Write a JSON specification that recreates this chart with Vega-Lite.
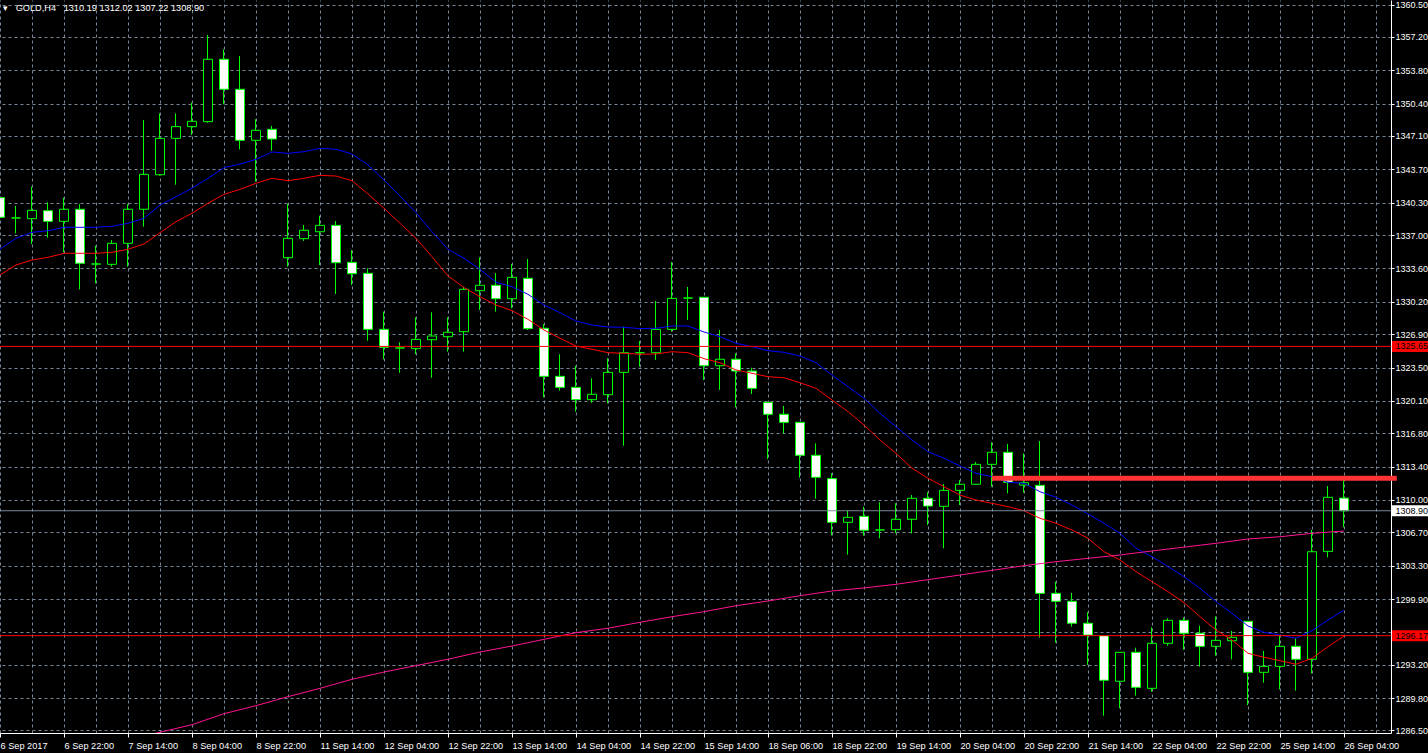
{
  "$schema": "https://vega.github.io/schema/vega-lite/v6.json",
  "width": 1391,
  "height": 733,
  "autosize": {"type": "none"},
  "padding": {"left": 0, "top": 0, "right": 37, "bottom": 20},
  "background": "black",
  "config": {
    "view": {"stroke": null},
    "scale": {"continuousPadding": 0},
    "axis": {"labelOverlap": false, "labelBound": false, "labelFlush": false, "labelColor": "white", "labelFont": "Liberation Sans", "labelFontSize": 9, "title": null}
  },
  "title": {"text": "▾\u00a0\u00a0\u00a0GOLD,H4\u00a0\u00a0\u00a01310.19 1312.02 1307.22 1308.90", "anchor": "start", "frame": "group", "orient": "top", "offset": -13, "dx": 3, "color": "white", "font": "Liberation Sans", "fontSize": 9.2, "fontWeight": "normal"},
  "datasets": {
    "candles": [
      {"i":0,"o":1340.81,"h":1342.27,"l":1338.03,"c":1338.81,"b":1335.58,"r":1332.93},
      {"i":1,"o":1338.74,"h":1339.96,"l":1337.18,"c":1338.74,"b":1336.67,"r":1333.95},
      {"i":2,"o":1338.67,"h":1341.93,"l":1336.09,"c":1339.52,"b":1337.28,"r":1334.46},
      {"i":3,"o":1339.48,"h":1340.34,"l":1336.73,"c":1338.40,"b":1337.44,"r":1334.73},
      {"i":4,"o":1338.40,"h":1340.81,"l":1335.24,"c":1339.63,"b":1337.79,"r":1335.14},
      {"i":5,"o":1339.63,"h":1340.17,"l":1331.47,"c":1334.12,"b":1337.79,"r":1335.14},
      {"i":6,"o":1334.05,"h":1335.92,"l":1332.08,"c":1334.05,"b":1337.79,"r":1335.14},
      {"i":7,"o":1334.02,"h":1336.50,"l":1333.78,"c":1336.16,"b":1337.89,"r":1335.24},
      {"i":8,"o":1336.16,"h":1340.17,"l":1333.78,"c":1339.63,"b":1338.20,"r":1335.55},
      {"i":9,"o":1339.63,"h":1348.73,"l":1337.85,"c":1343.19,"b":1338.71,"r":1336.09},
      {"i":10,"o":1343.15,"h":1349.41,"l":1343.05,"c":1346.86,"b":1340.06,"r":1337.24},
      {"i":11,"o":1346.86,"h":1349.41,"l":1342.13,"c":1348.05,"b":1340.91,"r":1338.36},
      {"i":12,"o":1348.05,"h":1350.49,"l":1347.20,"c":1348.60,"b":1341.77,"r":1339.22},
      {"i":13,"o":1348.56,"h":1357.39,"l":1348.45,"c":1354.92,"b":1342.79,"r":1340.24},
      {"i":14,"o":1354.92,"h":1355.93,"l":1350.33,"c":1351.86,"b":1343.87,"r":1341.15},
      {"i":15,"o":1351.86,"h":1355.25,"l":1345.74,"c":1346.66,"b":1344.24,"r":1341.66},
      {"i":16,"o":1346.66,"h":1348.80,"l":1342.44,"c":1347.68,"b":1344.72,"r":1342.28},
      {"i":17,"o":1347.78,"h":1348.12,"l":1345.60,"c":1346.79,"b":1345.47,"r":1342.79},
      {"i":18,"o":1334.69,"h":1340.17,"l":1333.78,"c":1336.67,"b":1345.33,"r":1342.54},
      {"i":19,"o":1336.63,"h":1338.03,"l":1336.40,"c":1337.49,"b":1345.50,"r":1342.79},
      {"i":20,"o":1337.34,"h":1338.97,"l":1333.95,"c":1337.99,"b":1345.84,"r":1343.09},
      {"i":21,"o":1337.99,"h":1338.43,"l":1330.99,"c":1334.18,"b":1345.74,"r":1343.02},
      {"i":22,"o":1334.22,"h":1335.48,"l":1331.91,"c":1333.06,"b":1345.26,"r":1342.54},
      {"i":23,"o":1333.10,"h":1333.61,"l":1326.23,"c":1327.39,"b":1344.14,"r":1341.19},
      {"i":24,"o":1327.39,"h":1329.19,"l":1324.34,"c":1325.56,"b":1342.61,"r":1339.73},
      {"i":25,"o":1325.49,"h":1326.07,"l":1322.97,"c":1325.49,"b":1340.98,"r":1338.20},
      {"i":26,"o":1325.42,"h":1328.62,"l":1324.85,"c":1326.37,"b":1339.28,"r":1336.67},
      {"i":27,"o":1326.33,"h":1329.13,"l":1322.46,"c":1326.71,"b":1337.34,"r":1334.79},
      {"i":28,"o":1326.64,"h":1328.62,"l":1325.11,"c":1327.09,"b":1335.55,"r":1332.83},
      {"i":29,"o":1327.15,"h":1331.74,"l":1325.11,"c":1331.47,"b":1334.63,"r":1331.65},
      {"i":30,"o":1331.33,"h":1334.73,"l":1329.36,"c":1331.88,"b":1333.51,"r":1330.72},
      {"i":31,"o":1331.88,"h":1333.13,"l":1329.19,"c":1330.51,"b":1332.19,"r":1329.87},
      {"i":32,"o":1330.51,"h":1334.05,"l":1329.53,"c":1332.69,"b":1331.74,"r":1329.29},
      {"i":33,"o":1332.59,"h":1334.56,"l":1327.32,"c":1327.46,"b":1330.96,"r":1328.41},
      {"i":34,"o":1327.50,"h":1327.93,"l":1320.46,"c":1322.60,"b":1329.87,"r":1327.32},
      {"i":35,"o":1322.60,"h":1324.85,"l":1321.14,"c":1321.48,"b":1329.09,"r":1326.48},
      {"i":36,"o":1321.48,"h":1323.68,"l":1319.00,"c":1320.22,"b":1328.24,"r":1325.69},
      {"i":37,"o":1320.22,"h":1322.40,"l":1319.91,"c":1320.77,"b":1327.83,"r":1325.36},
      {"i":38,"o":1320.73,"h":1324.44,"l":1319.85,"c":1323.01,"b":1327.63,"r":1325.01},
      {"i":39,"o":1323.01,"h":1327.66,"l":1315.53,"c":1325.01,"b":1327.60,"r":1324.95},
      {"i":40,"o":1325.01,"h":1326.20,"l":1323.58,"c":1325.01,"b":1327.46,"r":1324.85},
      {"i":41,"o":1325.01,"h":1330.28,"l":1324.27,"c":1327.39,"b":1327.50,"r":1324.88},
      {"i":42,"o":1327.39,"h":1334.25,"l":1327.15,"c":1330.55,"b":1327.73,"r":1325.11},
      {"i":43,"o":1330.58,"h":1331.71,"l":1328.34,"c":1330.58,"b":1327.73,"r":1325.01},
      {"i":44,"o":1330.66,"h":1330.66,"l":1322.23,"c":1323.68,"b":1327.12,"r":1324.40},
      {"i":45,"o":1323.68,"h":1327.32,"l":1321.21,"c":1324.34,"b":1326.64,"r":1323.99},
      {"i":46,"o":1324.34,"h":1324.95,"l":1319.44,"c":1323.14,"b":1325.97,"r":1323.25},
      {"i":47,"o":1323.14,"h":1323.48,"l":1320.80,"c":1321.38,"b":1325.62,"r":1322.91},
      {"i":48,"o":1319.95,"h":1319.95,"l":1314.17,"c":1318.73,"b":1325.21,"r":1322.56},
      {"i":49,"o":1318.73,"h":1319.58,"l":1316.79,"c":1317.91,"b":1325.05,"r":1322.46},
      {"i":50,"o":1317.91,"h":1317.91,"l":1312.27,"c":1314.55,"b":1324.67,"r":1321.95},
      {"i":51,"o":1314.55,"h":1315.77,"l":1310.13,"c":1312.31,"b":1323.99,"r":1321.38},
      {"i":52,"o":1312.17,"h":1312.72,"l":1306.40,"c":1307.72,"b":1322.74,"r":1320.19},
      {"i":53,"o":1307.72,"h":1308.90,"l":1304.42,"c":1308.23,"b":1321.54,"r":1319.00},
      {"i":54,"o":1308.33,"h":1309.31,"l":1306.36,"c":1306.91,"b":1320.36,"r":1317.64},
      {"i":55,"o":1306.94,"h":1309.76,"l":1306.09,"c":1306.94,"b":1318.83,"r":1316.11},
      {"i":56,"o":1306.97,"h":1309.66,"l":1306.60,"c":1308.03,"b":1317.47,"r":1314.75},
      {"i":57,"o":1308.03,"h":1310.50,"l":1306.60,"c":1310.17,"b":1316.11,"r":1313.23},
      {"i":58,"o":1310.17,"h":1310.78,"l":1307.45,"c":1309.38,"b":1314.92,"r":1312.21},
      {"i":59,"o":1309.35,"h":1311.63,"l":1305.07,"c":1310.98,"b":1314.25,"r":1311.35},
      {"i":60,"o":1310.98,"h":1312.03,"l":1309.49,"c":1311.60,"b":1313.46,"r":1310.50},
      {"i":61,"o":1311.60,"h":1313.87,"l":1311.60,"c":1313.63,"b":1312.72,"r":1309.99},
      {"i":62,"o":1313.63,"h":1315.88,"l":1311.35,"c":1314.86,"b":1312.37,"r":1309.66},
      {"i":63,"o":1314.86,"h":1315.70,"l":1310.68,"c":1311.80,"b":1311.80,"r":1309.31},
      {"i":64,"o":1311.52,"h":1314.75,"l":1310.74,"c":1311.76,"b":1311.70,"r":1308.90},
      {"i":65,"o":1311.49,"h":1316.01,"l":1295.96,"c":1300.48,"b":1310.84,"r":1308.13},
      {"i":66,"o":1300.48,"h":1301.67,"l":1295.45,"c":1299.67,"b":1310.27,"r":1307.62},
      {"i":67,"o":1299.67,"h":1300.52,"l":1297.08,"c":1297.43,"b":1309.49,"r":1306.94},
      {"i":68,"o":1297.43,"h":1298.55,"l":1293.18,"c":1296.23,"b":1308.57,"r":1306.09},
      {"i":69,"o":1296.16,"h":1296.16,"l":1288.01,"c":1291.62,"b":1307.62,"r":1304.73},
      {"i":70,"o":1291.52,"h":1294.47,"l":1288.76,"c":1294.47,"b":1306.60,"r":1303.88},
      {"i":71,"o":1294.47,"h":1294.94,"l":1290.05,"c":1290.90,"b":1305.07,"r":1302.69},
      {"i":72,"o":1290.80,"h":1297.02,"l":1290.45,"c":1295.39,"b":1304.22,"r":1301.67},
      {"i":73,"o":1295.39,"h":1297.94,"l":1295.14,"c":1297.73,"b":1303.20,"r":1300.65},
      {"i":74,"o":1297.73,"h":1298.04,"l":1294.74,"c":1296.41,"b":1302.18,"r":1299.53},
      {"i":75,"o":1296.41,"h":1297.18,"l":1293.00,"c":1295.08,"b":1300.99,"r":1298.10},
      {"i":76,"o":1295.08,"h":1298.14,"l":1294.12,"c":1295.69,"b":1299.63,"r":1296.74},
      {"i":77,"o":1295.65,"h":1296.64,"l":1293.76,"c":1296.00,"b":1298.45,"r":1295.72},
      {"i":78,"o":1297.63,"h":1297.63,"l":1289.10,"c":1292.43,"b":1297.15,"r":1294.37},
      {"i":79,"o":1292.43,"h":1294.60,"l":1291.37,"c":1293.04,"b":1296.51,"r":1293.96},
      {"i":80,"o":1293.04,"h":1296.23,"l":1290.70,"c":1295.08,"b":1296.23,"r":1293.62},
      {"i":81,"o":1295.08,"h":1295.90,"l":1290.56,"c":1293.76,"b":1295.90,"r":1293.25},
      {"i":82,"o":1293.76,"h":1306.94,"l":1292.33,"c":1304.72,"b":1296.67,"r":1293.86},
      {"i":83,"o":1304.76,"h":1311.42,"l":1304.15,"c":1310.27,"b":1297.76,"r":1295.04},
      {"i":84,"o":1310.19,"h":1312.02,"l":1307.22,"c":1308.90,"b":1298.78,"r":1296.13}
    ],
    "pink": [
      {"i":9,"v":1285.94},{"i":10,"v":1286.32},{"i":12,"v":1287.09},{"i":14,"v":1288.21},{"i":16,"v":1289.03},
      {"i":18,"v":1289.95},{"i":20,"v":1290.80},{"i":22,"v":1291.72},{"i":24,"v":1292.46},{"i":26,"v":1293.11},
      {"i":28,"v":1293.76},{"i":30,"v":1294.50},{"i":32,"v":1295.11},{"i":36,"v":1296.47},{"i":38,"v":1296.92},
      {"i":40,"v":1297.53},{"i":42,"v":1298.10},{"i":44,"v":1298.61},{"i":46,"v":1299.22},{"i":48,"v":1299.70},
      {"i":50,"v":1300.24},{"i":52,"v":1300.72},{"i":54,"v":1301.03},{"i":56,"v":1301.40},{"i":60,"v":1302.35},
      {"i":64,"v":1303.30},{"i":66,"v":1303.71},{"i":70,"v":1304.39},{"i":72,"v":1304.80},{"i":76,"v":1305.58},
      {"i":78,"v":1306.02},{"i":80,"v":1306.25},{"i":82,"v":1306.60},{"i":84,"v":1306.83}
    ]
  },
  "layer": [
    {
      "data": {"name": "candles"},
      "mark": {"type": "rule", "color": "#00ff00", "strokeWidth": 1, "xOffset": -0.5, "clip": true},
      "encoding": {
        "x": {"field": "i", "type": "quantitative",
          "scale": {"domain": [0, 86.9375], "nice": false, "zero": false, "padding": 0},
          "axis": {"orient": "bottom", "values": [0,4,8,12,16,20,24,28,32,36,40,44,48,52,56,60,64,68,72,76,80,84],
            "grid": false, "domainColor": "white", "tickColor": "white", "tickSize": 4,
            "labelColor": "white", "labelFont": "Liberation Sans", "labelFontSize": 9.2,
            "labelAlign": "left", "labelBaseline": "top", "labelPadding": 4,
            "labelOverlap": false, "labelBound": false, "labelFlush": false, "title": null,
            "labelExpr": "['6 Sep 2017','6 Sep 22:00','7 Sep 14:00','8 Sep 04:00','8 Sep 22:00','11 Sep 14:00','12 Sep 04:00','12 Sep 22:00','13 Sep 14:00','14 Sep 04:00','14 Sep 22:00','15 Sep 14:00','18 Sep 06:00','18 Sep 22:00','19 Sep 14:00','20 Sep 04:00','20 Sep 22:00','21 Sep 14:00','22 Sep 04:00','22 Sep 22:00','25 Sep 14:00','26 Sep 04:00'][datum.value/4]"}},
        "y": {"field": "l", "type": "quantitative",
          "scale": {"domain": [1286.245, 1360.96], "nice": false, "zero": false, "padding": 0},
          "axis": {"orient": "right",
            "values": [1360.5,1357.2,1353.8,1350.4,1347.1,1343.7,1340.3,1337.0,1333.6,1330.2,1326.9,1323.5,1320.1,1316.8,1313.4,1310.0,1306.7,1303.3,1299.9,1296.5,1293.2,1289.8,1286.5],
            "grid": true, "gridColor": "#778899", "gridDash": [3, 3], "gridOpacity": 1,
            "domainColor": "white", "tickColor": "white", "tickSize": 3,
            "labelColor": "white", "labelFont": "Liberation Sans", "labelFontSize": 9,
            "labelPadding": 1, "labelBaseline": "middle", "labelOverlap": false, "labelBound": false, "labelFlush": false,
            "title": null,
            "labelExpr": "datum.value == 1296.5 ? '' : format(datum.value, '.2f')"}},
        "y2": {"field": "h"}
      }
    },
    {
      "data": {"name": "candles"},
      "mark": {"type": "bar", "width": 9, "stroke": "#00ff00", "strokeWidth": 1, "clip": true},
      "encoding": {
        "x": {"field": "i", "type": "quantitative",
          "axis": {"orient": "top", "values": [0,2,4,6,8,10,12,14,16,18,20,22,24,26,28,30,32,34,36,38,40,42,44,46,48,50,52,54,56,58,60,62,64,66,68,70,72,74,76,78,80,82,84,86],
            "grid": true, "gridColor": "#778899", "gridDash": [3, 3], "gridOpacity": 1,
            "labels": false, "ticks": false, "domain": false, "title": null}},
        "y": {"field": "o", "type": "quantitative", "axis": null},
        "y2": {"field": "c"},
        "fill": {"condition": {"test": "datum.c < datum.o", "value": "white"}, "value": "black"}
      }
    },
    {
      "data": {"name": "candles"},
      "mark": {"type": "line", "color": "#0000ff", "strokeWidth": 1, "clip": true},
      "encoding": {
        "x": {"field": "i", "type": "quantitative", "axis": null},
        "y": {"field": "b", "type": "quantitative", "axis": null}
      }
    },
    {
      "data": {"name": "candles"},
      "mark": {"type": "line", "color": "#ff0000", "strokeWidth": 1, "clip": true},
      "encoding": {
        "x": {"field": "i", "type": "quantitative", "axis": null},
        "y": {"field": "r", "type": "quantitative", "axis": null}
      }
    },
    {
      "data": {"name": "pink"},
      "mark": {"type": "line", "color": "#ff1493", "strokeWidth": 1, "clip": true},
      "encoding": {
        "x": {"field": "i", "type": "quantitative", "axis": null},
        "y": {"field": "v", "type": "quantitative", "axis": null}
      }
    },
    {
      "data": {"values": [{"p": 1325.65}, {"p": 1296.17}]},
      "mark": {"type": "rule", "color": "#ff0000", "strokeWidth": 1},
      "encoding": {
        "y": {"field": "p", "type": "quantitative", "axis": null}
      }
    },
    {
      "data": {"values": [{"p": 1308.90}]},
      "mark": {"type": "rule", "color": "#778899", "strokeWidth": 1},
      "encoding": {
        "y": {"field": "p", "type": "quantitative", "axis": null}
      }
    },
    {
      "data": {"values": [{"p": 1312.2, "from": 62, "to": 87.3}]},
      "mark": {"type": "rule", "color": "#ff3333", "strokeWidth": 5, "clip": false},
      "encoding": {
        "x": {"field": "from", "type": "quantitative", "axis": null},
        "x2": {"field": "to"},
        "y": {"field": "p", "type": "quantitative", "axis": null}
      }
    },
    {
      "data": {"values": [{"p": 1325.65}, {"p": 1296.17}]},
      "mark": {"type": "bar", "orient": "horizontal", "height": 11, "fill": "#ff0000", "clip": false},
      "encoding": {
        "x": {"datum": 87.0, "type": "quantitative", "axis": null},
        "x2": {"datum": 89.5},
        "y": {"field": "p", "type": "quantitative", "axis": null}
      }
    },
    {
      "data": {"values": [{"p": 1308.90}]},
      "mark": {"type": "bar", "orient": "horizontal", "height": 11, "fill": "white", "clip": false},
      "encoding": {
        "x": {"datum": 87.0, "type": "quantitative", "axis": null},
        "x2": {"datum": 89.5},
        "y": {"field": "p", "type": "quantitative", "axis": null}
      }
    },
    {
      "data": {"values": [{"p": 1325.65}, {"p": 1296.17}, {"p": 1308.90}]},
      "mark": {"type": "text", "align": "left", "baseline": "middle", "color": "black", "font": "Liberation Sans", "fontSize": 9, "clip": false},
      "encoding": {
        "x": {"datum": 87.22, "type": "quantitative", "axis": null},
        "y": {"field": "p", "type": "quantitative", "axis": null},
        "text": {"field": "p", "type": "quantitative", "format": ".2f"}
      }
    }
  ],
  "resolve": {"axis": {"x": "independent", "y": "independent"}}
}
